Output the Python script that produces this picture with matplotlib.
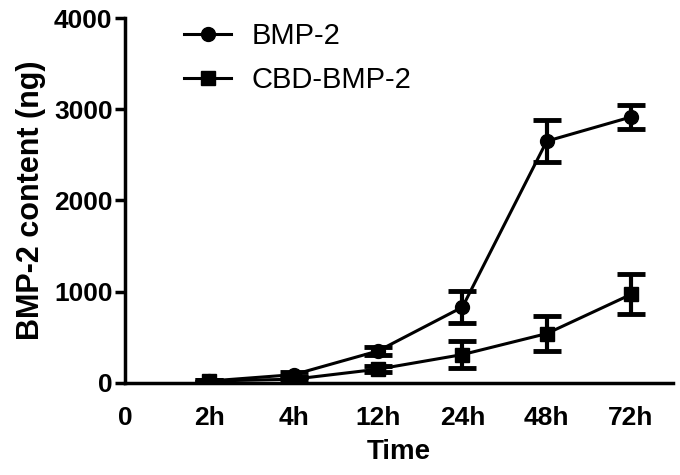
import matplotlib.pyplot as plt
from matplotlib.lines import Line2D

plt.rcParams['font.family'] = ['Liberation Sans', 'DejaVu Sans']

time_labels = ["0", "2h", "4h", "12h", "24h", "48h", "72h"]
time_pos = [1, 2, 3, 4, 5, 6]

bmp2_mean = [20, 90, 350, 830, 2650, 2915]
bmp2_err = [15, 30, 40, 175, 230, 130]

cbd_mean = [20, 40, 150, 310, 540, 970]
cbd_err = [15, 20, 35, 150, 190, 220]

fig = plt.figure(figsize=(6.8, 4.75), dpi=100)
ax = fig.add_axes([0.184, 0.194, 0.806, 0.768])

ax.errorbar(time_pos, bmp2_mean, yerr=bmp2_err, color='black', lw=2.2,
            marker='o', ms=10, capsize=10, capthick=3.5, elinewidth=3)
ax.errorbar(time_pos, cbd_mean, yerr=cbd_err, color='black', lw=2.2,
            marker='s', ms=9.5, capsize=10, capthick=3.5, elinewidth=3)

ax.set_xlim(0, 6.5)
ax.set_ylim(0, 4000)
ax.set_yticks([0, 1000, 2000, 3000, 4000])
ax.set_xticks(range(len(time_labels)))
ax.set_xticklabels(time_labels)

for s in ['top', 'right']:
    ax.spines[s].set_visible(False)
for s in ['left', 'bottom']:
    ax.spines[s].set_linewidth(2.5)

ax.tick_params(axis='y', length=7, width=2.5, labelsize=19, pad=2)
ax.tick_params(axis='x', length=0, labelsize=19, pad=17)
for lab in ax.get_xticklabels() + ax.get_yticklabels():
    lab.set_fontweight('bold')

ax.set_xlabel("Time", fontsize=20, fontweight='bold', labelpad=6)
ax.set_ylabel("BMP-2 content (ng)", fontsize=22, fontweight='bold', labelpad=6)

handles = [Line2D([], [], color='black', lw=2.2, marker='o', ms=10),
           Line2D([], [], color='black', lw=2.2, marker='s', ms=9.5)]
ax.legend(handles, ["BMP-2", "CBD-BMP-2"], loc='upper left',
          bbox_to_anchor=(0.06, 1.06), frameon=False, fontsize=21,
          handlelength=1.6, handletextpad=0.7, labelspacing=0.55)

fig.savefig("out.png", dpi=100)
